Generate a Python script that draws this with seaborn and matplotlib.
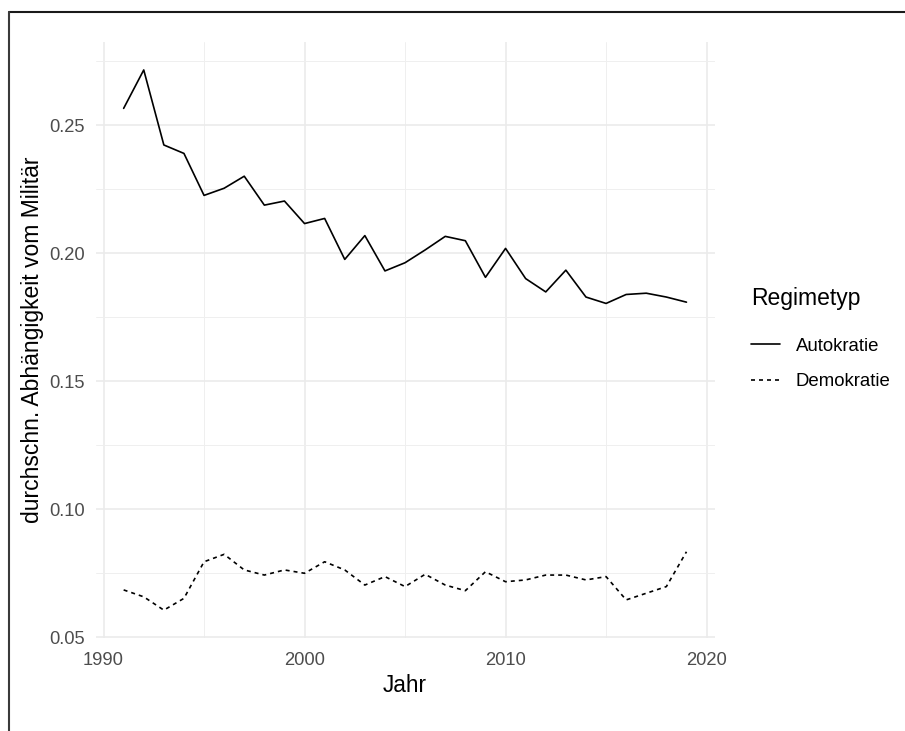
import matplotlib
matplotlib.use("Agg")
import matplotlib.pyplot as plt
from matplotlib.lines import Line2D
import seaborn as sns
import pandas as pd
import numpy as np

years = list(range(1991, 2020))
autokratie = [0.2565, 0.2715, 0.2422, 0.2389, 0.2225, 0.2253, 0.2300, 0.2187, 0.2203,
              0.2115, 0.2135, 0.1975, 0.2068, 0.1930, 0.1962, 0.2012, 0.2065, 0.2048,
              0.1905, 0.2018, 0.1900, 0.1848, 0.1933, 0.1828, 0.1803, 0.1838, 0.1843,
              0.1828, 0.1808]
demokratie = [0.0684, 0.0657, 0.0605, 0.0651, 0.0794, 0.0823, 0.0762, 0.0742, 0.0762,
              0.0749, 0.0794, 0.0762, 0.0703, 0.0736, 0.0697, 0.0745, 0.0703, 0.0681,
              0.0755, 0.0716, 0.0723, 0.0742, 0.0742, 0.0723, 0.0736, 0.0645, 0.0671,
              0.0697, 0.0833]
regime_levels = ["Autokratie", "Demokratie"]
x_ticks = [1990, 2000, 2010, 2020]
y_ticks = [0.05, 0.10, 0.15, 0.20, 0.25]
y_ticklabels = ["0.05", "0.10", "0.15", "0.20", "0.25"]

df = pd.DataFrame({
    "Jahr": years * 2,
    "Wert": autokratie + demokratie,
    "Regimetyp": [regime_levels[0]] * len(years) + [regime_levels[1]] * len(years),
})

sns.set_theme(style="white")
plt.rcParams["font.family"] = ["Liberation Sans", "DejaVu Sans"]

W, H = 905, 731
fig = plt.figure(figsize=(W / 100, H / 100), dpi=100)
ax = fig.add_axes([95.5 / W, 1 - 638.3 / H, 619.1 / W, 596.5 / H])

LW = 1.2
DASH = (2.4, 2.4)
sns.lineplot(data=df, x="Jahr", y="Wert", style="Regimetyp", color="black",
             dashes={"Autokratie": "", "Demokratie": DASH}, linewidth=LW,
             ax=ax, legend=False)

ax.set_xlim(1989.6, 2020.4)
ax.set_ylim(0.0495, 0.2825)
ax.set_xticks(x_ticks)
ax.set_xticks([1995, 2005, 2015], minor=True)
ax.set_yticks(y_ticks)
ax.set_yticks([0.075, 0.125, 0.175, 0.225, 0.275], minor=True)
ax.set_yticklabels(y_ticklabels)
ax.grid(which="major", color="#EBEBEB", linewidth=1.2)
ax.grid(which="minor", color="#EFEFEF", linewidth=0.7)
ax.set_axisbelow(True)
for s in ax.spines.values():
    s.set_visible(False)
ax.tick_params(which="both", length=0, labelsize=13.2, labelcolor="#4D4D4D")
ax.tick_params(axis="x", pad=10)
ax.tick_params(axis="y", pad=8)

ax.set_xlabel("Jahr", fontsize=16.3, color="black")
ax.set_ylabel("durchschn. Abhängigkeit vom Militär", fontsize=16.5, color="black")
ax.xaxis.label.set(va="center", ha="center")
ax.yaxis.label.set(va="center", ha="center", rotation_mode="anchor")
ax.xaxis.set_label_coords(0.5, (638.3 - 686) / 596.5)
ax.yaxis.set_label_coords((33 - 95.5) / 619.1, 0.5)

handles = [Line2D([], [], color="black", lw=LW),
           Line2D([], [], color="black", lw=LW, dashes=DASH)]
leg = fig.legend(handles, regime_levels, title="Regimetyp", loc="upper left",
                 bbox_to_anchor=(751 / W, 1 - 287 / H), frameon=False,
                 fontsize=13.4, title_fontsize=16.5, handlelength=1.55,
                 labelspacing=1.0, handletextpad=0.85, borderpad=0, borderaxespad=0)
leg._legend_box.align = "left"
leg._legend_box.sep = 20
leg.get_title().set_color("black")
for t in leg.get_texts():
    t.set_color("black")

# screenshot frame
fig.add_artist(Line2D([8.5 / W, 1], [1 - 11.5 / H, 1 - 11.5 / H], color="#1a1a1a", lw=1.5,
                      transform=fig.transFigure))
fig.add_artist(Line2D([8.5 / W, 8.5 / W], [0, 1 - 11.5 / H], color="#3a3a3a", lw=1.5,
                      transform=fig.transFigure))

fig.savefig("out.png", dpi=100, facecolor="white")
